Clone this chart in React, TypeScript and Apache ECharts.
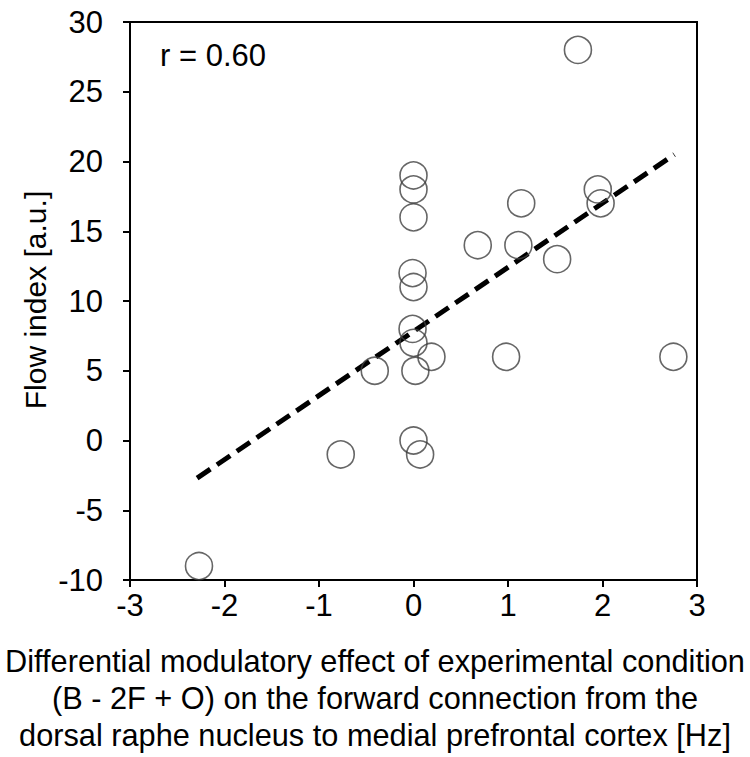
import React, { useEffect, useRef } from "react";
import * as echarts from "echarts";

const xValues = [1.74, 0.0, 0.0, 0.0, -0.01, 0.0, -0.01, 0.0, 0.19, 0.02, -0.41, 0.0, 0.07, 0.68, 1.14, 1.11, 1.52, 0.98, 1.95, 1.98, 2.75, -0.77, -2.27];
const yValues = [28, 19, 18, 16, 12, 11, 8, 7, 6, 5, 5, 0, -1, 14, 17, 14, 13, 6, 18, 17, 6, -1, -9];
const trendX = [-2.29, 2.76];
const trendY = [-2.7, 20.5];
const xTicks = [-3, -2, -1, 0, 1, 2, 3];
const yTicks = [-10, -5, 0, 5, 10, 15, 20, 25, 30];
const correlationLabel = "r = 0.60";
const yAxisTitle = "Flow index [a.u.]";
const xAxisTitleLines = [
  "Differential modulatory effect of experimental condition",
  "(B - 2F + O) on the forward connection from the",
  "dorsal raphe nucleus to medial prefrontal cortex [Hz]",
];

const FONT = "Arial, 'Liberation Sans', sans-serif";

export default function App() {
  const ref = useRef<HTMLDivElement>(null);
  useEffect(() => {
    if (!ref.current) return;
    const chart = echarts.init(ref.current, null, { renderer: "svg" });
    const points = xValues.map((x, i) => [x, yValues[i]]);
    const trend = trendX.map((x, i) => [x, trendY[i]]);
    chart.setOption({
      animation: false,
      backgroundColor: "#ffffff",
      grid: {
        left: 130,
        right: 53,
        top: 22,
        bottom: 177,
        show: true,
        borderColor: "#000",
        borderWidth: 2,
        backgroundColor: "transparent",
      },
      xAxis: {
        type: "value",
        min: xTicks[0],
        max: xTicks[xTicks.length - 1],
        interval: 1,
        axisLine: { show: true, onZero: false, lineStyle: { color: "#000", width: 2 } },
        axisTick: { show: true, inside: false, length: 7, lineStyle: { color: "#000", width: 2 } },
        splitLine: { show: false },
        axisLabel: { color: "#000", fontSize: 31, fontFamily: FONT, margin: 10 },
      },
      yAxis: {
        type: "value",
        min: yTicks[0],
        max: yTicks[yTicks.length - 1],
        interval: 5,
        axisLine: { show: true, onZero: false, lineStyle: { color: "#000", width: 2 } },
        axisTick: { show: true, inside: false, length: 7, lineStyle: { color: "#000", width: 2 } },
        splitLine: { show: false },
        axisLabel: { color: "#000", fontSize: 31, fontFamily: FONT, margin: 27 },
      },
      series: [
        {
          type: "line",
          data: trend,
          symbol: "none",
          lineStyle: { color: "#000", width: 5, type: [16, 8] },
          z: 3,
        },
        {
          type: "scatter",
          data: points,
          symbol: "circle",
          symbolSize: 27,
          itemStyle: { color: "rgba(0,0,0,0)", borderColor: "#404040", borderWidth: 1.6 },
          z: 4,
        },
      ],
      graphic: [
        {
          type: "text",
          left: 160,
          top: 40,
          style: { text: correlationLabel, fontSize: 31, fontFamily: FONT, fill: "#000" },
        },
        {
          type: "text",
          x: 35,
          y: 300,
          rotation: Math.PI / 2,
          style: {
            text: yAxisTitle,
            fontSize: 30,
            fontFamily: FONT,
            fill: "#000",
            align: "center",
            verticalAlign: "middle",
          },
        },
        {
          type: "text",
          x: 375,
          y: 698,
          scaleX: 0.96,
          style: {
            text: xAxisTitleLines.join("\n"),
            fontSize: 32,
            lineHeight: 37,
            fontFamily: FONT,
            fill: "#000",
            align: "center",
            verticalAlign: "middle",
          },
        },
      ],
    });
    return () => chart.dispose();
  }, []);
  return (
    <div
      ref={ref}
      style={{ position: "fixed", left: 0, top: 0, width: 750, height: 757, background: "#fff" }}
    />
  );
}
